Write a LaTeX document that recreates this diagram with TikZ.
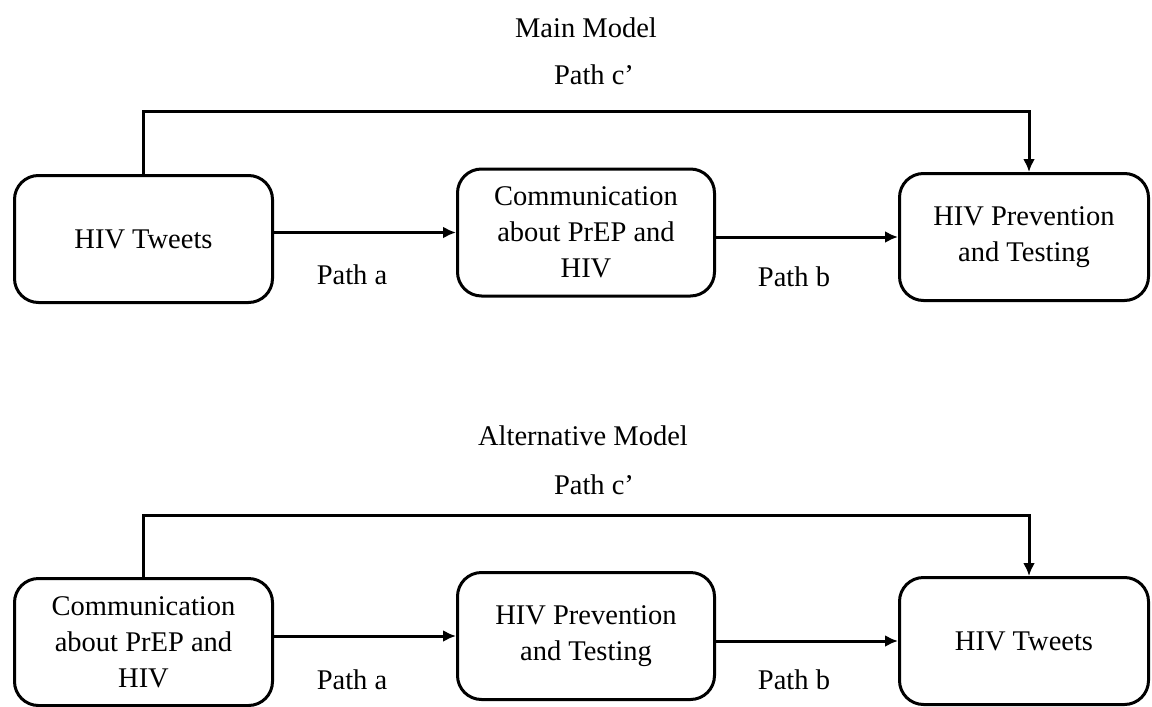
\documentclass[tikz,border=0pt]{standalone}
\usepackage{fontspec}
\setmainfont{Liberation Serif}
\usetikzlibrary{arrows.meta, positioning, calc}
\tikzset{
	varbox/.style={rectangle, rounded corners=24pt, draw=black, line width=3pt,
		minimum width=257pt, minimum height=127pt, align=center, inner sep=4pt,
		font=\fontsize{28.5}{36}\selectfont},
	pathlabel/.style={font=\fontsize{28.5}{36}\selectfont},
	titlelabel/.style={font=\fontsize{28.5}{36}\selectfont},
	myarrow/.style={-{Latex[length=13pt,width=12pt]}, line width=3pt}
}
\begin{document}
\begin{tikzpicture}[x=1pt, y=-1pt]
			\useasboundingbox (0,0) rectangle (1152,707);

			% main model
			\node[titlelabel] (maintitle) at (586,28) {Main Model};
			\node[pathlabel] (mainc) at (594,75) {Path c’};
			\node[varbox, minimum width=258pt] (tweets) at (143.5,239) {HIV Tweets};
			\node[varbox] (comm) at (586,232.5) {Communication\\about PrEP and\\HIV};
			\node[varbox, minimum width=249pt] (prev) at (1024,237) {HIV Prevention\\and Testing};
			\coordinate (ctop) at (586,111);

			\draw[myarrow] (comm.west -| tweets.east) -- (comm.west);
			\draw[myarrow] (prev.west -| comm.east) -- (prev.west);
			\draw[myarrow] (tweets.north) |- (ctop) -| ([xshift=5pt]prev.north);

			\node[pathlabel] (maina) at (352,275) {Path a};
			\node[pathlabel] (mainb) at (794,277) {Path b};

			% alternative model
			\node[titlelabel] (alttitle) at (583,436) {Alternative Model};
			\node[pathlabel] (altc) at (594,485) {Path c’};
			\node[varbox, minimum width=258pt] (comm2) at (143.5,642) {Communication\\about PrEP and\\HIV};
			\node[varbox] (prev2) at (586,636) {HIV Prevention\\and Testing};
			\node[varbox, minimum width=249pt] (tweets2) at (1024,641) {HIV Tweets};
			\coordinate (ctop2) at (586,515);

			\draw[myarrow] (prev2.west -| comm2.east) -- (prev2.west);
			\draw[myarrow] (tweets2.west -| prev2.east) -- (tweets2.west);
			\draw[myarrow] (comm2.north) |- (ctop2) -| ([xshift=5pt]tweets2.north);

			\node[pathlabel] (alta) at (352,680) {Path a};
			\node[pathlabel] (altb) at (794,680) {Path b};
\end{tikzpicture}
\end{document}
